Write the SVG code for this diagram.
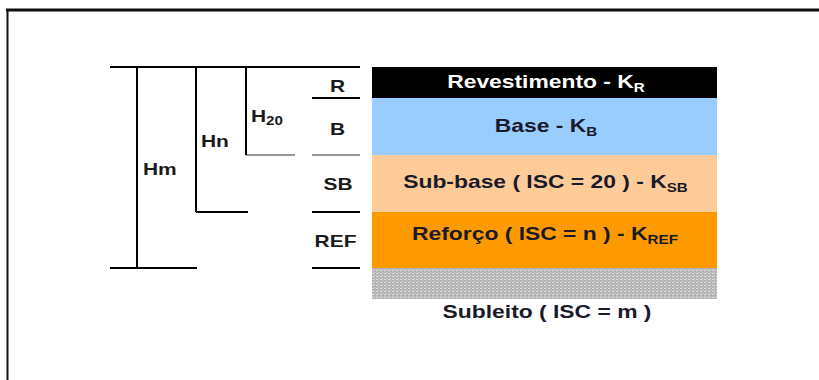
<svg xmlns="http://www.w3.org/2000/svg" width="819" height="380" viewBox="0 0 819 380">
<defs>
<style>
.t{font-family:"Liberation Sans",Arial,sans-serif;font-weight:bold}
.lay{font-size:18px;text-anchor:middle;fill:#1a1a2a}
.lbl{font-size:16.5px;text-anchor:middle;fill:#1a1a1a}
.h{font-size:16.5px;fill:#1a1a1a}
.ln{stroke:#000;stroke-width:2;fill:none}
.thin{stroke:#333;stroke-width:1;fill:none}
</style>
<pattern id="dots" width="4" height="3" patternUnits="userSpaceOnUse">
<rect width="4" height="3" fill="#b4b4b4"/>
<rect x="0" y="0" width="2" height="1" fill="#e0e0e0"/>
<rect x="2" y="2" width="1" height="1" fill="#d6d6d6"/>
</pattern>
</defs>
<rect width="819" height="380" fill="#fff"/>
<g id="frame">
<line x1="6" y1="10" x2="819" y2="10" stroke="#111" stroke-width="3"/>
<line x1="7.5" y1="9" x2="7.5" y2="380" stroke="#111" stroke-width="2"/>
</g>
<g id="connectors">
<line class="ln" x1="110" y1="67" x2="360" y2="67"/>
<line class="ln" x1="137" y1="67" x2="137" y2="268"/>
<line class="ln" x1="110" y1="268" x2="197" y2="268"/>
<line class="ln" x1="196" y1="67" x2="196" y2="212"/>
<line class="ln" x1="196" y1="212" x2="248" y2="212"/>
<line class="ln" x1="246" y1="67" x2="246" y2="155"/>
<line class="thin" x1="246" y1="155" x2="295" y2="155"/>
<line class="ln" x1="312" y1="98" x2="360" y2="98"/>
<line class="thin" x1="312" y1="155" x2="360" y2="155"/>
<line class="ln" x1="312" y1="212" x2="360" y2="212"/>
<line class="ln" x1="312" y1="268" x2="360" y2="268"/>
</g>
<g id="dim-Hm"><text class="t h" transform="translate(143,175) scale(1.27,1)">Hm</text></g>
<g id="dim-Hn"><text class="t h" transform="translate(201,147) scale(1.27,1)">Hn</text></g>
<g id="dim-H20"><text class="t h" transform="translate(251,122) scale(1.27,1)">H<tspan font-size="12" dy="3">20</tspan></text></g>
<g id="lbl-R"><text class="t lbl" transform="translate(337.5,91.5) scale(1.27,1)">R</text></g>
<g id="lbl-B"><text class="t lbl" transform="translate(337.5,135) scale(1.27,1)">B</text></g>
<g id="lbl-SB"><text class="t lbl" transform="translate(338,190) scale(1.27,1)">SB</text></g>
<g id="lbl-REF"><text class="t lbl" transform="translate(335.5,247) scale(1.27,1)">REF</text></g>
<g id="layer-revestimento">
<rect x="372" y="67" width="345" height="31" fill="#000"/>
<text class="t lay" style="fill:#fff" transform="translate(546,88) scale(1.27,1)">Revestimento - K<tspan font-size="12" dy="4">R</tspan></text>
</g>
<g id="layer-base">
<rect x="372" y="98" width="345" height="57" fill="#99ccff"/>
<text class="t lay" transform="translate(546,132) scale(1.27,1)">Base - K<tspan font-size="12" dy="4">B</tspan></text>
</g>
<g id="layer-subbase">
<rect x="372" y="155" width="345" height="57" fill="#ffcc99"/>
<text class="t lay" transform="translate(545.5,188) scale(1.27,1)">Sub-base ( ISC = 20 ) - K<tspan font-size="12" dy="4">SB</tspan></text>
</g>
<g id="layer-reforco">
<rect x="372" y="212" width="345" height="56" fill="#ff9900"/>
<text class="t lay" transform="translate(545,240) scale(1.27,1)">Reforço ( ISC = n ) - K<tspan font-size="12" dy="4">REF</tspan></text>
</g>
<g id="layer-subleito">
<rect x="372" y="268" width="345" height="31" fill="url(#dots)"/>
<text class="t lay" transform="translate(547,318) scale(1.27,1)">Subleito ( ISC = m )</text>
</g>
</svg>
